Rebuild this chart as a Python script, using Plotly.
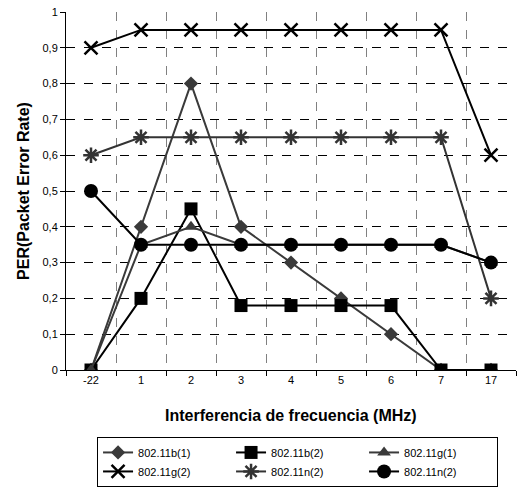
import plotly.graph_objects as go

categories = ["-22", "1", "2", "3", "4", "5", "6", "7", "17"]
b1 = [0, 0.4, 0.8, 0.4, 0.3, 0.2, 0.1, 0, 0]
b2 = [0, 0.2, 0.45, 0.18, 0.18, 0.18, 0.18, 0, 0]
g1 = [0, 0.35, 0.4, 0.35, 0.35, 0.35, 0.35, 0.35, 0.3]
g2 = [0.9, 0.95, 0.95, 0.95, 0.95, 0.95, 0.95, 0.95, 0.6]
n2a = [0.6, 0.65, 0.65, 0.65, 0.65, 0.65, 0.65, 0.65, 0.2]
n2b = [0.5, 0.35, 0.35, 0.35, 0.35, 0.35, 0.35, 0.35, 0.3]
series_names = ["802.11b(1)", "802.11b(2)", "802.11g(1)", "802.11g(2)", "802.11n(2)", "802.11n(2)"]
y_ticks = [0, 0.1, 0.2, 0.3, 0.4, 0.5, 0.6, 0.7, 0.8, 0.9, 1]
y_ticktext = ["0", "0,1", "0,2", "0,3", "0,4", "0,5", "0,6", "0,7", "0,8", "0,9", "1"]
x_title = "Interferencia de frecuencia (MHz)"
y_title = "PER(Packet Error Rate)"

styles = [
    dict(color="#3a3a3a", symbol="diamond", size=11, lw=0),
    dict(color="#000000", symbol="square", size=13, lw=0),
    dict(color="#3a3a3a", symbol="triangle-up", size=12, lw=0),
    dict(color="#000000", symbol="x-thin-open", size=13, lw=2.5),
    dict(color="#333333", symbol="asterisk-open", size=13, lw=2.5),
    dict(color="#000000", symbol="circle", size=14, lw=0),
]
data = [b1, b2, g1, g2, n2a, n2b]

fig = go.Figure()
for name, vals, st in zip(series_names, data, styles):
    fig.add_trace(go.Scatter(
        x=categories, y=vals, name=name, mode="lines+markers",
        line=dict(color=st["color"], width=2),
        marker=dict(symbol=st["symbol"], size=st["size"], color=st["color"],
                    line=dict(color=st["color"], width=st["lw"])),
    ))

fig.update_layout(
    width=517, height=497,
    margin=dict(l=66, r=1, t=12, b=127),
    paper_bgcolor="white", plot_bgcolor="white",
    font=dict(family="Liberation Sans, Arial, sans-serif", size=11, color="black"),
    showlegend=True,
    legend=dict(
        orientation="h", x=0.069, xanchor="left", y=-0.187, yanchor="top",
        bordercolor="black", borderwidth=1, entrywidth=88, entrywidthmode="pixels",
        font=dict(size=11), tracegroupgap=0,
    ),
    annotations=[dict(
        text="<b>" + x_title + "</b>", xref="paper", yref="paper", x=0.5, y=-0.126,
        xanchor="center", yanchor="middle", showarrow=False, font=dict(size=16),
    )],
)
fig.update_xaxes(
    type="category", range=[-0.5, 8.5], tickson="boundaries", automargin=False,
    showgrid=True, gridcolor="#808080", griddash="dash", gridwidth=1,
    showline=True, linecolor="black", linewidth=1,
    ticks="outside", ticklen=5, tickcolor="black",
)
fig.update_yaxes(
    range=[0, 1], tickvals=y_ticks, ticktext=y_ticktext, automargin=False,
    showgrid=False,
    minor=dict(tickvals=y_ticks[1:-1], showgrid=True, gridcolor="black", griddash="dash",
               gridwidth=1, ticks=""),
    showline=True, linecolor="black", linewidth=1, zeroline=False,
    ticks="outside", ticklen=5, tickcolor="black",
    title=dict(text="<b>" + y_title + "</b>", font=dict(size=16), standoff=8),
)

fig.write_html("out.html", post_script="document.body.style.margin='0';",
               config={"displayModeBar": False})
